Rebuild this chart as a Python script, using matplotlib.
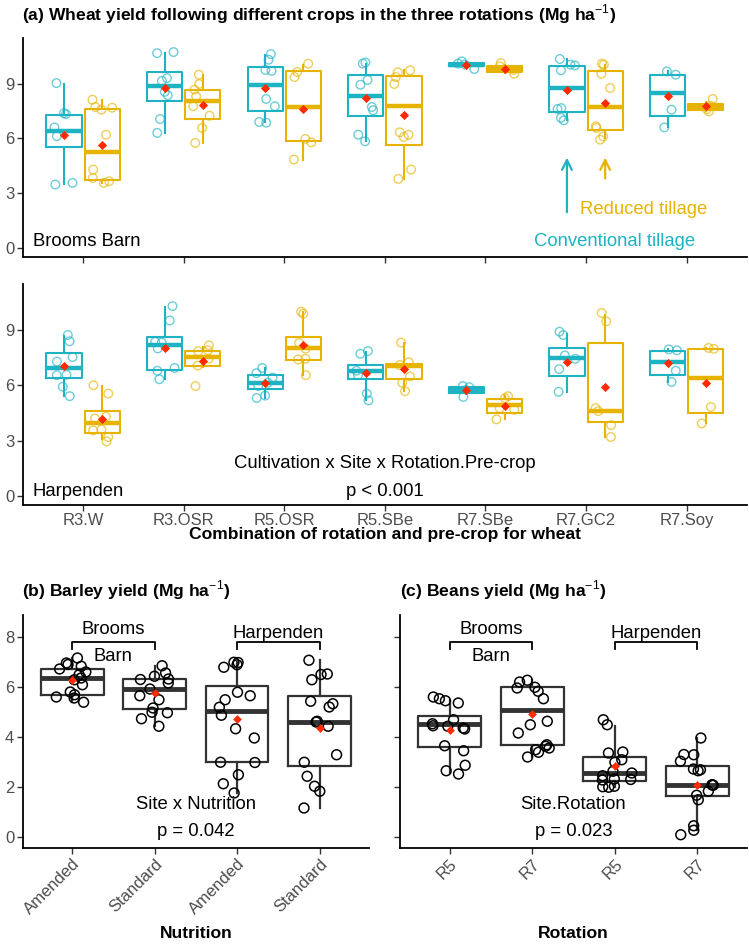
import numpy as np
import matplotlib
matplotlib.use("Agg")
import matplotlib.pyplot as plt

plt.rcParams['font.family'] = ['Liberation Sans', 'DejaVu Sans']
plt.rcParams['mathtext.fontset'] = 'custom'
plt.rcParams['mathtext.rm'] = 'Liberation Sans'
plt.rcParams['mathtext.bf'] = 'Liberation Sans:bold'

# ---- (a) wheat: categories, points, box stats (lo, q1, med, q3, hi), means ----
precrops = ['R3.W', 'R3.OSR', 'R5.OSR', 'R5.SBe', 'R7.SBe', 'R7.GC2', 'R7.Soy']

bb_ct_pts = [[9.03, 7.38, 7.33, 6.6, 6.12, 3.56, 3.47],
             [10.67, 10.73, 9.3, 9.15, 8.55, 8.36, 7.06, 6.3],
             [10.62, 10.31, 9.75, 9.7, 8.16, 7.76, 6.9, 6.86],
             [10.16, 10.1, 9.2, 8.94, 7.72, 7.54, 6.2, 5.84],
             [10.22, 10.1, 9.8, 10.05],
             [10.35, 10.04, 9.73, 10.0, 7.66, 7.61, 7.12, 6.99],
             [9.67, 9.49, 7.57, 6.6]]
bb_ct_box = [(3.5, 5.51, 6.42, 7.3, 9.0), (6.3, 8.03, 8.89, 9.64, 10.7),
             (6.88, 7.52, 8.9, 9.89, 10.55), (5.84, 7.21, 8.3, 9.45, 10.1),
             (9.9, 9.97, 10.04, 10.12, 10.2), (6.99, 7.43, 8.76, 9.95, 10.35),
             (6.6, 7.24, 8.49, 9.49, 9.67)]
bb_ct_mean = [6.2, 8.76, 8.76, 8.21, 10.04, 8.67, 8.3]

bb_rt_pts = [[8.12, 7.72, 7.68, 7.57, 6.2, 4.29, 3.83, 3.65, 3.56],
             [9.49, 8.98, 8.67, 8.3, 7.76, 7.24, 6.57, 5.75],
             [10.09, 9.64, 9.36, 5.97, 5.78, 4.84],
             [9.73, 9.62, 9.36, 8.98, 6.33, 6.2, 6.08, 4.29, 3.78],
             [10.13, 9.95, 9.54, 9.75],
             [10.09, 10.04, 9.54, 8.76, 6.66, 6.57, 6.11, 5.93],
             [8.16, 7.79, 7.6, 7.48]]
bb_rt_box = [(3.56, 3.74, 5.26, 7.63, 8.12), (5.75, 7.06, 8.03, 8.67, 9.45),
             (4.84, 5.84, 7.7, 9.67, 10.04), (3.78, 5.62, 7.79, 9.43, 9.76),
             (9.6, 9.64, 9.8, 9.95, 10.0), (6.02, 6.44, 7.72, 9.67, 10.04),
             (7.5, 7.57, 7.72, 7.88, 8.0)]
bb_rt_mean = [5.62, 7.83, 7.63, 7.3, 9.8, 7.94, 7.76]

hp_ct_pts = [[8.73, 8.39, 7.53, 7.29, 6.57, 6.55, 5.92, 5.41],
             [10.3, 9.52, 8.36, 8.32, 8.0, 6.94, 6.79, 6.33],
             [6.94, 6.66, 6.42, 6.14, 5.96, 5.44, 5.31],
             [7.86, 7.71, 6.79, 6.55, 5.55, 5.18],
             [5.96, 5.9, 5.37],
             [8.91, 8.73, 7.62, 7.44, 6.88, 5.65],
             [7.95, 7.9, 6.79, 6.18]]
hp_ct_box = [(5.41, 6.37, 6.94, 7.75, 8.67), (6.33, 6.85, 8.17, 8.63, 10.26),
             (5.31, 5.81, 6.14, 6.55, 6.94), (5.18, 6.33, 6.79, 7.1, 7.8),
             (5.55, 5.59, 5.74, 5.92, 5.96), (5.65, 6.51, 7.47, 8.03, 8.8),
             (6.18, 6.57, 7.29, 7.84, 7.95)]
hp_ct_mean = [7.03, 8.04, 6.1, 6.66, 5.74, 7.29, 7.2]

hp_rt_pts = [[6.0, 5.55, 4.3, 4.2, 3.6, 3.55, 3.19, 2.95],
             [8.17, 7.9, 7.85, 7.44, 7.07, 5.96],
             [10.0, 9.89, 8.3, 7.99, 7.44, 7.4, 6.55],
             [8.32, 7.25, 7.1, 6.48, 6.14, 5.68],
             [5.41, 5.3, 4.76, 4.67, 4.15],
             [9.93, 9.47, 4.76, 4.6, 3.84, 3.19],
             [8.03, 7.98, 4.82, 3.93]]
hp_rt_box = [(3.1, 3.43, 3.93, 4.63, 5.96), (7.02, 7.07, 7.53, 7.84, 8.08),
             (6.55, 7.4, 8.04, 8.63, 9.98), (5.68, 6.33, 7.03, 7.16, 8.27),
             (4.15, 4.52, 4.94, 5.28, 5.41), (3.19, 3.99, 4.61, 8.27, 9.83),
             (3.93, 4.48, 6.37, 7.99, 8.03)]
hp_rt_mean = [4.17, 7.34, 8.21, 6.88, 4.85, 5.9, 6.14]

# ---- (b) barley ----
nutrition = ['Amended', 'Standard', 'Amended', 'Standard']
barley_pts = [[7.16, 6.96, 6.83, 6.9, 6.72, 6.6, 6.49, 6.36, 6.29, 6.09, 5.8, 5.69, 5.6, 5.56, 5.39],
              [6.85, 6.56, 6.43, 6.32, 6.3, 6.16, 5.92, 5.65, 5.49, 5.16, 4.99, 4.97, 4.73, 4.43],
              [6.99, 6.98, 6.89, 6.79, 5.79, 5.65, 5.49, 5.19, 4.87, 4.33, 3.96, 2.99, 2.98, 2.49, 2.13, 1.76],
              [7.07, 6.52, 6.5, 6.29, 5.43, 5.33, 5.2, 4.63, 4.6, 4.43, 3.29, 2.99, 2.43, 2.03, 1.83, 1.16]]
barley_box = [(5.39, 5.69, 6.36, 6.73, 7.16), (4.43, 5.12, 5.93, 6.32, 6.85),
              (1.76, 3.0, 5.05, 6.03, 6.99), (1.16, 2.85, 4.6, 5.63, 7.07)]
barley_mean = [6.27, 5.76, 4.72, 4.36]

# ---- (c) beans ----
rotation = ['R5', 'R7', 'R5', 'R7']
beans_pts = [[5.6, 5.53, 5.45, 5.36, 4.69, 4.53, 4.45, 4.43, 4.36, 4.32, 3.65, 3.45, 2.87, 2.65, 2.52],
             [6.27, 6.2, 5.99, 5.96, 5.83, 5.53, 4.63, 4.49, 4.16, 3.69, 3.63, 3.56, 3.49, 3.39, 3.2],
             [4.69, 4.49, 3.4, 3.36, 3.09, 2.99, 2.63, 2.56, 2.45, 2.32, 2.28, 2.3, 2.03, 1.99, 2.01],
             [3.96, 3.29, 3.3, 3.03, 2.72, 2.69, 2.65, 2.09, 2.08, 2.07, 1.83, 1.67, 1.49, 0.45, 0.27, 0.09]]
beans_box = [(2.58, 3.6, 4.52, 4.85, 5.5), (3.2, 3.67, 5.07, 5.99, 6.27),
             (1.99, 2.23, 2.56, 3.2, 4.45), (0.27, 1.65, 2.09, 2.83, 3.96)]
beans_mean = [4.29, 4.92, 2.83, 2.09]

CT = '#1DB3C3'
RT = '#E6B400'
RED = '#FF2A00'
DARK = '#333333'

rng = np.random.default_rng(11)


def boxes(ax, pos, rows, color, width, lw, mlw):
    stats = [dict(whislo=r[0], q1=r[1], med=r[2], q3=r[3], whishi=r[4], fliers=[]) for r in rows]
    ax.bxp(stats, positions=pos, widths=width, showcaps=False, showfliers=False,
           manage_ticks=False,
           boxprops=dict(color=color, lw=lw),
           whiskerprops=dict(color=color, lw=lw),
           medianprops=dict(color=color, lw=mlw, solid_capstyle='butt'))


def points(ax, pos, groups, color, jit, s, alpha, lw):
    for p, g in zip(pos, groups):
        x = p + rng.uniform(-jit, jit, len(g))
        ax.scatter(x, g, s=s, facecolors='none', edgecolors=color, alpha=alpha,
                   linewidths=lw, zorder=4)


def style(ax):
    for sp in ['top', 'right']:
        ax.spines[sp].set_visible(False)
    for sp in ['left', 'bottom']:
        ax.spines[sp].set_linewidth(1.3)
    ax.tick_params(length=4, width=1, color=DARK, labelcolor='#4D4D4D', labelsize=12, pad=2)


fig = plt.figure(figsize=(7.49, 9.44), dpi=100)
W, H = 749.0, 944.0


def add_ax(x0, y0, x1, y1):
    return fig.add_axes([x0 / W, 1 - y1 / H, (x1 - x0) / W, (y1 - y0) / H])


ax_bb = add_ax(22.7, 38, 747, 257)
ax_hp = add_ax(22.7, 284, 747, 505)
ax_b = add_ax(22.7, 615, 369, 848)
ax_c = add_ax(400, 615, 747, 848)

x = np.arange(len(precrops))
off = 0.19
for ax, ct_pts, ct_box, ct_mean, rt_pts, rt_box, rt_mean in [
        (ax_bb, bb_ct_pts, bb_ct_box, bb_ct_mean, bb_rt_pts, bb_rt_box, bb_rt_mean),
        (ax_hp, hp_ct_pts, hp_ct_box, hp_ct_mean, hp_rt_pts, hp_rt_box, hp_rt_mean)]:
    boxes(ax, x - off, ct_box, CT, 0.35, 1.5, 3.2)
    boxes(ax, x + off, rt_box, RT, 0.35, 1.5, 3.2)
    points(ax, x - off, ct_pts, CT, 0.1, 38, 0.65, 1.0)
    points(ax, x + off, rt_pts, RT, 0.1, 38, 0.65, 1.0)
    ax.scatter(x - off, ct_mean, marker='D', s=22, color=RED, zorder=5, linewidths=0)
    ax.scatter(x + off, rt_mean, marker='D', s=22, color=RED, zorder=5, linewidths=0)
    ax.set_xlim(-0.6, len(precrops) - 0.4)
    ax.set_ylim(-0.5, 11.5)
    ax.set_yticks([0, 3, 6, 9])
    ax.set_xticks(x)
    style(ax)

ax_bb.set_xticklabels([])
ax_hp.set_xticklabels(precrops)
ax_hp.set_xlabel('Combination of rotation and pre-crop for wheat', fontsize=12.6, fontweight='bold')
ax_hp.xaxis.set_label_coords(0.5, -0.135)
ax_hp.xaxis.label.set_va('center')

ax_bb.text(-0.5, 0.35, 'Brooms Barn', fontsize=13.3, va='center', ha='left')
ax_hp.text(-0.5, 0.25, 'Harpenden', fontsize=13.3, va='center', ha='left')
ax_hp.text(3.0, 1.75, 'Cultivation x Site x Rotation.Pre-crop', fontsize=13.3, ha='center', va='center')
ax_hp.text(3.0, 0.25, 'p < 0.001', fontsize=13.3, ha='center', va='center')

ax_bb.annotate('', xy=(5 - off, 5.1), xytext=(5 - off, 1.8),
               arrowprops=dict(arrowstyle='->,head_length=0.7,head_width=0.35', color=CT, lw=1.6))
ax_bb.annotate('', xy=(5 + off, 5.1), xytext=(5 + off, 3.65),
               arrowprops=dict(arrowstyle='->,head_length=0.7,head_width=0.35', color=RT, lw=1.6))
ax_bb.text(5.57, 2.13, 'Reduced tillage', color=RT, fontsize=13.3, ha='center', va='center')
ax_bb.text(5.28, 0.36, 'Conventional tillage', color=CT, fontsize=13.3, ha='center', va='center')

xb = np.arange(4)
for ax, pts, bx, mn, labels, sitelab, stat, pval in [
        (ax_b, barley_pts, barley_box, barley_mean, nutrition, 'Nutrition', 'Site x Nutrition', 'p = 0.042'),
        (ax_c, beans_pts, beans_box, beans_mean, rotation, 'Rotation', 'Site.Rotation', 'p = 0.023')]:
    boxes(ax, xb, bx, DARK, 0.76, 1.6, 3.5)
    points(ax, xb, pts, 'black', 0.22, 50, 1.0, 1.1)
    ax.scatter(xb, mn, marker='D', s=20, color=RED, zorder=5, linewidths=0)
    ax.set_xlim(-0.6, 3.6)
    ax.set_ylim(-0.44, 8.88)
    ax.set_yticks([0, 2, 4, 6, 8])
    ax.set_xticks(xb)
    ax.set_xticklabels(labels, rotation=45, ha='right', rotation_mode='anchor')
    style(ax)
    ax.set_xlabel(sitelab, fontsize=12.6, fontweight='bold')
    ax.xaxis.set_label_coords(0.5, -0.365)
    ax.xaxis.label.set_va('center')
    # site brackets
    for a, b in [(0, 1), (2, 3)]:
        ax.plot([a, a, b, b], [7.52, 7.79, 7.79, 7.52], color='black', lw=1.3)
    ax.text(0.5, 8.29, 'Brooms', fontsize=13.3, ha='center', va='center')
    ax.text(0.5, 7.23, 'Barn', fontsize=13.3, ha='center', va='center')
    ax.text(2.5, 8.16, 'Harpenden', fontsize=13.3, ha='center', va='center')
    ax.text(1.5, 1.29, stat, fontsize=13.3, ha='center', va='center')
    ax.text(1.5, 0.23, pval, fontsize=13.3, ha='center', va='center')

ax_c.set_yticklabels([])

fig.text(22 / W, 1 - 14.5 / H,
         r'(a) Wheat yield following different crops in the three rotations (Mg ha$^{-1}$)',
         fontsize=12.6, fontweight='bold', va='center', ha='left')
fig.text(22 / W, 1 - 590 / H, r'(b) Barley yield (Mg ha$^{-1}$)',
         fontsize=12.6, fontweight='bold', va='center', ha='left')
fig.text(400 / W, 1 - 590 / H, r'(c) Beans yield (Mg ha$^{-1}$)',
         fontsize=12.6, fontweight='bold', va='center', ha='left')

fig.savefig('out.png', dpi=100, facecolor='white')
